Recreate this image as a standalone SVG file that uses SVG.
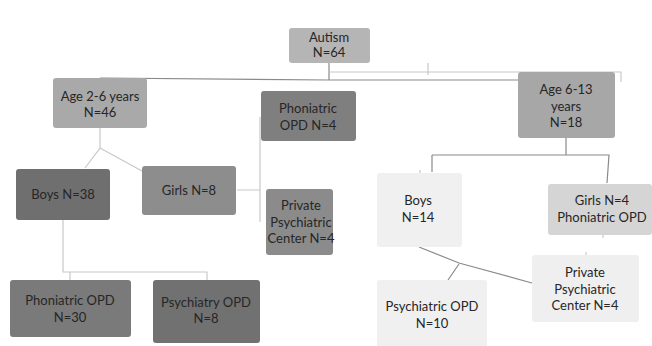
<svg xmlns="http://www.w3.org/2000/svg" width="652" height="346" viewBox="0 0 652 346">
<style>
.b{stroke:none}
.t{font-family:Lato,"Liberation Sans",sans-serif;font-size:13px;fill:#262626;text-anchor:middle}
.c{fill:none;stroke:#8a8a8a;stroke-width:1.2}
.cl{fill:none;stroke:#c8c8c8;stroke-width:1.2}
</style>
<rect width="652" height="346" fill="#ffffff"/>
<g id="connectors">
<path class="c" d="M329 63V80M100 78L329 80L518 80"/>
<path class="cl" d="M329 72H621V82M428 63V75"/>
<path class="cl" d="M100 128V148L85 168M100 148L142 171"/>
<path class="cl" d="M260 117V222M237 190H260"/>
<path class="cl" d="M63 220V272H207V280M70 272V280"/>
<path class="c" d="M566 138V155M432 155H609L607 183M432 155V172"/>
<path class="c" d="M419 247L459 263L532 283M459 264L448 280"/>
<path class="cl" d="M603 235V238M586 252V255M420 170V173"/>
</g>
<g id="autism"><rect class="b" x="289" y="28" width="81" height="35" rx="3" fill="#b5b5b5"/><text class="t" x="329" y="42">Autism</text><text class="t" x="329" y="57">N=64</text></g>
<g id="age26"><rect class="b" x="53" y="78" width="94" height="50" rx="3" fill="#a9a9a9"/><text class="t" x="100" y="101">Age 2-6 years</text><text class="t" x="100" y="117">N=46</text></g>
<g id="phon4"><rect class="b" x="261" y="91" width="95" height="50" rx="3" fill="#7f7f7f"/><text class="t" x="308" y="113">Phoniatric</text><text class="t" x="308" y="130">OPD N=4</text></g>
<g id="age613"><rect class="b" x="518" y="72" width="97" height="66" rx="3" fill="#a7a7a7"/><text class="t" x="566" y="94">Age 6-13</text><text class="t" x="566" y="111">years</text><text class="t" x="566" y="127">N=18</text></g>
<g id="boys38"><rect class="b" x="16" y="169" width="94" height="51" rx="3" fill="#6f6f6f"/><text class="t" x="63" y="199">Boys N=38</text></g>
<g id="girls8"><rect class="b" x="142" y="166" width="94" height="49" rx="3" fill="#8d8d8d"/><text class="t" x="189" y="195">Girls N=8</text></g>
<g id="priv4l"><rect class="b" x="266" y="189" width="67" height="66" rx="3" fill="#8b8b8b"/><text class="t" x="301" y="210">Private</text><text class="t" x="301" y="227">Psychiatric</text><text class="t" x="301" y="243">Center N=4</text></g>
<g id="phon30"><rect class="b" x="10" y="280" width="121" height="57" rx="3" fill="#7a7a7a"/><text class="t" x="70" y="305">Phoniatric OPD</text><text class="t" x="70" y="322">N=30</text></g>
<g id="psy8"><rect class="b" x="153" y="280" width="107" height="63" rx="3" fill="#717171"/><text class="t" x="206" y="307">Psychiatry OPD</text><text class="t" x="206" y="323">N=8</text></g>
<g id="boys14"><rect class="b" x="377" y="173" width="85" height="74" rx="3" fill="#f0f0f0"/><text class="t" x="418" y="205">Boys</text><text class="t" x="418" y="222">N=14</text></g>
<g id="girls4"><rect class="b" x="548" y="184" width="104" height="51" rx="3" fill="#d5d5d5"/><text class="t" x="602" y="205">Girls N=4</text><text class="t" x="602" y="222">Phoniatric OPD</text></g>
<g id="priv4r"><rect class="b" x="532" y="255" width="107" height="67" rx="3" fill="#efefef"/><text class="t" x="585" y="277">Private</text><text class="t" x="585" y="294">Psychiatric</text><text class="t" x="585" y="310">Center N=4</text></g>
<g id="psy10"><rect class="b" x="377" y="280" width="110" height="70" rx="3" fill="#f0f0f0"/><text class="t" x="432" y="311">Psychiatric OPD</text><text class="t" x="432" y="328">N=10</text></g>
</svg>
